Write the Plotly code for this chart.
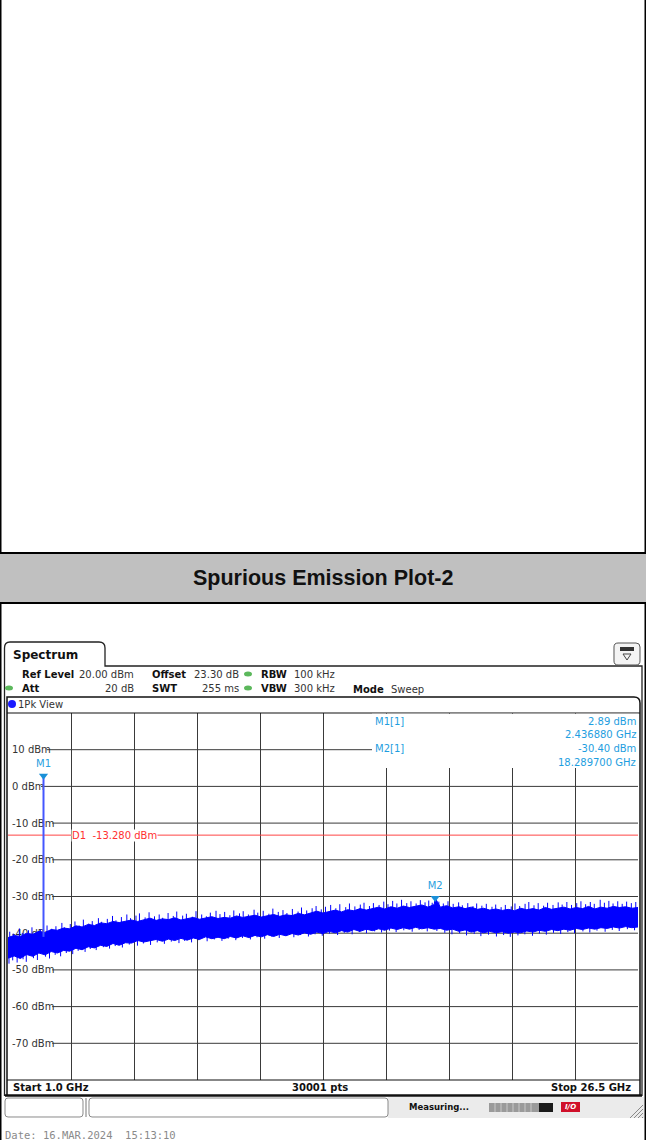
import plotly.graph_objects as go

W, H = 646, 1140

# ---------------- data ----------------
freq_ghz = [1.0, 1.25, 1.5, 1.75, 2.0, 2.25, 2.5, 2.75, 3.0, 3.25,
            3.5, 3.75, 4.0, 4.25, 4.5, 4.75, 5.0, 5.25, 5.5, 5.75,
            6.0, 6.25, 6.5, 6.75, 7.0, 7.25, 7.5, 7.75, 8.0, 8.25,
            8.5, 8.75, 9.0, 9.25, 9.5, 9.75, 10.0, 10.25, 10.5, 10.75,
            11.0, 11.25, 11.5, 11.75, 12.0, 12.25, 12.5, 12.75, 13.0, 13.25,
            13.5, 13.75, 14.0, 14.25, 14.5, 14.75, 15.0, 15.25, 15.5, 15.75,
            16.0, 16.25, 16.5, 16.75, 17.0, 17.25, 17.5, 17.75, 18.0, 18.25,
            18.5, 18.75, 19.0, 19.25, 19.5, 19.75, 20.0, 20.25, 20.5, 20.75,
            21.0, 21.25, 21.5, 21.75, 22.0, 22.25, 22.5, 22.75, 23.0, 23.25,
            23.5, 23.75, 24.0, 24.25, 24.5, 24.75, 25.0, 25.25, 25.5, 25.75,
            26.0, 26.25, 26.5]

# upper edge of the dense trace body, dBm
trace_upper = [-41.2, -40.6, -40.9, -40.0, -40.3, -39.5, -39.8, -39.0, -39.2, -38.6,
               -38.8, -38.0, -38.3, -37.6, -37.9, -37.2, -37.4, -36.8, -37.1, -36.7,
               -36.4, -36.8, -36.3, -35.9, -36.5, -36.1, -36.3, -35.8, -36.4, -36.1,
               -35.7, -36.2, -35.9, -35.5, -36.0, -35.7, -35.9, -35.3, -35.7, -35.4,
               -35.1, -35.6, -35.3, -34.9, -35.4, -35.0, -35.2, -34.6, -35.0, -34.6,
               -34.0, -34.5, -34.1, -33.7, -34.2, -33.6, -33.9, -33.3, -33.7, -33.3,
               -32.9, -33.4, -32.8, -33.2, -32.6, -33.0, -32.6, -32.3, -32.9, -32.2,
               -32.9, -32.5, -33.1, -32.8, -33.3, -32.9, -33.5, -33.2, -33.7, -33.4,
               -33.8, -33.5, -33.9, -33.2, -33.6, -33.3, -33.7, -33.0, -33.5, -33.2,
               -32.9, -33.4, -33.0, -33.3, -32.7, -33.4, -32.9, -33.2, -32.7, -33.0,
               -32.8, -33.2, -33.0]

# lower edge of the dense trace body, dBm
trace_lower = [-46.8, -46.2, -46.9, -45.8, -46.3, -45.4, -45.9, -45.0, -45.4, -44.7,
               -44.9, -44.1, -44.5, -43.7, -44.0, -43.3, -43.6, -42.8, -43.3, -42.6,
               -42.7, -42.0, -42.4, -42.0, -41.7, -42.2, -41.6, -42.0, -41.4, -41.9,
               -41.3, -41.7, -41.0, -41.5, -41.1, -41.5, -40.9, -41.3, -40.7, -41.2,
               -40.6, -41.0, -40.4, -40.9, -40.3, -40.7, -40.1, -40.5, -39.9, -40.3,
               -39.7, -40.1, -39.5, -39.9, -39.3, -39.7, -39.0, -39.5, -38.9, -39.3,
               -38.8, -39.2, -38.6, -39.0, -38.5, -38.9, -38.4, -38.8, -38.5, -38.9,
               -38.7, -39.2, -38.9, -39.5, -39.1, -39.7, -39.3, -39.9, -39.5, -39.9,
               -39.6, -40.0, -39.7, -39.9, -39.4, -39.7, -39.2, -39.5, -39.0, -39.3,
               -38.9, -39.2, -38.7, -39.0, -38.6, -38.9, -38.5, -38.7, -38.3, -38.6,
               -38.2, -38.5, -38.3]

# individual peaks sticking out above the trace body
spike_up_freq = [1.07, 1.21, 1.46, 1.58, 1.83, 1.97, 2.22, 2.31, 2.58, 2.77, 2.94, 3.18,
                 3.29, 3.52, 3.71, 3.88, 4.05, 4.27, 4.41, 4.66, 4.79, 5.02, 5.23, 5.37,
                 5.59, 5.81, 5.96, 6.18, 6.32, 6.55, 6.71, 6.93, 7.12, 7.26, 7.48, 7.69,
                 7.83, 8.07, 8.22, 8.46, 8.61, 8.84, 9.03, 9.19, 9.42, 9.58, 9.77, 9.98,
                 10.14, 10.37, 10.52, 10.73, 10.96, 11.11, 11.33, 11.56, 11.72, 11.94,
                 12.13, 12.29, 12.51, 12.74, 12.88, 13.09, 13.31, 13.47, 13.68, 13.85,
                 14.06, 14.27, 14.43, 14.67, 14.82, 15.04, 15.26, 15.41, 15.63, 15.79,
                 16.02, 16.21, 16.38, 16.57, 16.74, 16.93, 17.14, 17.31, 17.52, 17.69,
                 17.88, 18.03, 18.17, 18.44, 18.62, 18.81, 19.02, 19.24, 19.39, 19.61,
                 19.82, 19.97, 20.18, 20.36, 20.59, 20.74, 20.96, 21.13, 21.37, 21.52,
                 21.71, 21.93, 22.08, 22.29, 22.46, 22.68, 22.84, 23.06, 23.27, 23.43,
                 23.62, 23.81, 24.02, 24.19, 24.38, 24.57, 24.73, 24.97, 25.14, 25.32,
                 25.49, 25.68, 25.86, 26.04, 26.23, 26.41]
spike_up_dbm = [-39.6, -40.1, -38.7, -39.9, -39.2, -38.4, -39.5, -38.9, -37.9, -38.8, -38.1,
                -37.2, -38.4, -37.5, -36.8, -37.9, -36.3, -37.4, -36.7, -35.9, -36.9, -36.1,
                -35.3, -36.5, -35.6, -34.9, -35.9, -35.2, -34.6, -35.7, -34.3, -35.4, -34.9,
                -35.8, -34.5, -35.3, -34.1, -35.2, -34.7, -35.5, -34.0, -34.9, -35.4, -34.4,
                -33.9, -34.8, -34.2, -35.1, -33.8, -34.6, -34.0, -34.9, -33.6, -34.4, -33.9,
                -34.7, -33.3, -34.2, -33.7, -34.5, -33.4, -34.1, -33.0, -33.8, -33.2, -32.6,
                -33.5, -32.8, -32.3, -33.2, -32.1, -32.9, -31.9, -32.7, -32.2, -31.7, -32.6,
                -31.8, -32.3, -31.4, -32.1, -31.2, -31.9, -30.9, -31.8, -31.3, -31.9, -31.0,
                -31.6, -31.1, -31.7, -31.4, -31.9, -31.3, -32.0, -31.6, -32.4, -31.8, -32.6,
                -31.9, -32.5, -32.0, -32.8, -32.2, -32.9, -32.3, -32.7, -31.9, -32.6, -32.0,
                -31.5, -32.4, -31.8, -32.5, -31.7, -32.3, -31.6, -32.2, -31.5, -32.3, -31.8,
                -31.3, -32.1, -31.5, -32.0, -30.9, -31.7, -31.2, -31.9, -31.3, -32.0, -31.4,
                -31.8, -31.5]

# individual dips below the trace body
spike_down_freq = [1.04, 1.19, 1.37, 1.61, 1.74, 2.03, 2.19, 2.52, 2.68, 2.91, 3.13, 3.36,
                   3.62, 3.84, 4.12, 4.33, 4.57, 4.86, 5.11, 5.34, 5.63, 5.91, 6.24, 6.48,
                   6.77, 7.04, 7.33, 7.61, 7.92, 8.15, 8.43, 8.72, 9.06, 9.35, 9.66, 9.91,
                   10.22, 10.49, 10.81, 11.08, 11.39, 11.67, 11.98, 12.26, 12.57, 12.84,
                   13.16, 13.43, 13.72, 14.01, 14.34, 14.61, 14.93, 15.22, 15.51, 15.84,
                   16.12, 16.44, 16.71, 17.02, 17.36, 17.64, 17.97, 18.36, 18.68, 18.97,
                   19.28, 19.56, 19.87, 20.14, 20.45, 20.77, 21.06, 21.33, 21.64, 21.92,
                   22.23, 22.51, 22.79, 23.08, 23.37, 23.66, 23.93, 24.27, 24.55, 24.84,
                   25.17, 25.46, 25.74, 26.07, 26.36]
spike_down_dbm = [-48.3, -47.4, -48.0, -47.1, -47.8, -46.8, -47.3, -46.4, -46.9, -45.9,
                  -46.3, -45.4, -45.7, -44.8, -45.1, -44.3, -44.6, -43.8, -44.2, -43.5,
                  -43.9, -43.1, -43.4, -42.8, -43.2, -42.5, -42.9, -42.3, -42.7, -42.1,
                  -42.5, -41.9, -42.2, -41.7, -42.1, -41.5, -41.9, -41.3, -41.7, -41.1,
                  -41.5, -40.9, -41.3, -40.7, -41.1, -40.5, -40.9, -40.3, -40.7, -40.1,
                  -40.5, -39.9, -40.3, -39.7, -40.0, -39.5, -39.8, -39.3, -39.7, -39.2,
                  -39.6, -39.1, -39.5, -39.4, -39.9, -40.3, -40.0, -40.6, -40.2, -40.8,
                  -40.4, -40.9, -40.5, -41.0, -40.6, -40.3, -40.7, -40.1, -40.4, -39.9,
                  -40.2, -39.7, -40.0, -39.5, -39.8, -39.3, -39.6, -39.1, -39.4, -38.9,
                  -39.2]

marker_names = ["M1", "M2"]
marker_freq_ghz = [2.43688, 18.2897]
marker_level_dbm = [2.89, -30.40]
m1_base_dbm = -41.0
d1_level_dbm = -13.28

y_tick_vals = [10, 0, -10, -20, -30, -40, -50, -60, -70]
y_tick_text = ["10 dBm", "0 dBm", "-10 dBm", "-20 dBm", "-30 dBm",
               "-40 dBm", "-50 dBm", "-60 dBm", "-70 dBm"]

x_start, x_stop = 1.0, 26.5
y_ref_top, y_bottom = 20, -80

# ---------------- helpers ----------------
def px(x):
    return x / W

def py(y):
    return 1 - y / H

def P(x, y):
    return f"{px(x):.5f},{py(y):.5f}"

annotations = []
shapes = []

def txt(x, y, s, size=10, color="#333333", bold=False, anchor="left",
        family="DejaVu Sans", bg=None):
    a = dict(x=px(x), y=py(y), xref="paper", yref="paper",
             text=f"<b>{s}</b>" if bold else s, showarrow=False,
             xanchor=anchor, yanchor="middle", borderpad=0,
             font=dict(size=size, color=color, family=family))
    if bg:
        a["bgcolor"] = bg
    annotations.append(a)

def rect(x0, y0, x1, y1, fill=None, line=None, lw=1, layer="above"):
    shapes.append(dict(type="rect", xref="paper", yref="paper",
                       x0=px(x0), x1=px(x1), y0=py(y0), y1=py(y1),
                       fillcolor=fill if fill else "rgba(0,0,0,0)",
                       line=dict(color=line if line else "rgba(0,0,0,0)", width=lw if line else 0),
                       layer=layer))

def hline(x0, x1, y, color="black", lw=1, layer="above"):
    shapes.append(dict(type="line", xref="paper", yref="paper",
                       x0=px(x0), x1=px(x1), y0=py(y), y1=py(y),
                       line=dict(color=color, width=lw), layer=layer))

def vline(x, y0, y1, color="black", lw=1, layer="above"):
    shapes.append(dict(type="line", xref="paper", yref="paper",
                       x0=px(x), x1=px(x), y0=py(y0), y1=py(y1),
                       line=dict(color=color, width=lw), layer=layer))

def path(d, color="black", lw=1, fill=None, layer="above"):
    shapes.append(dict(type="path", xref="paper", yref="paper", path=d,
                       line=dict(color=color, width=lw),
                       fillcolor=fill if fill else "rgba(0,0,0,0)", layer=layer))

# ---------------- page / table chrome ----------------
rect(0, 0, 1.5, H, fill="black")
rect(644.5, 0, W, H, fill="black")
rect(0, 553, W, 603, fill="#c0c0c0")
hline(0, W, 553, lw=2)
hline(0, W, 603, lw=2)
txt(323, 578, "Spurious Emission Plot-2", size=21.5, color="#111111", bold=True,
    anchor="center", family="Liberation Sans, Arial")

# ---------------- instrument window ----------------
path("M " + P(4.5, 1096) + " L " + P(4.5, 648) + " Q " + P(4.5, 642) + " " + P(10, 642)
     + " L " + P(99, 642) + " Q " + P(105, 642) + " " + P(105, 648)
     + " L " + P(105, 666) + " L " + P(642, 666) + " L " + P(642, 1096),
     color="#222222", lw=1.3)
txt(12, 655, "Spectrum", size=12, color="#111111", bold=True)
path("M " + P(614, 647) + " Q " + P(614, 643) + " " + P(618, 643) + " L " + P(636, 643)
     + " Q " + P(640, 643) + " " + P(640, 647) + " L " + P(640, 661) + " Q " + P(640, 665)
     + " " + P(636, 665) + " L " + P(618, 665) + " Q " + P(614, 665) + " " + P(614, 661) + " Z",
     color="#555555", lw=1, fill="#f4f4f4")
rect(620, 647, 634, 651, fill="#333333")
path("M " + P(623, 654) + " L " + P(631, 654) + " L " + P(627, 660) + " Z", color="#444444", lw=1)

grn = "#5cb85c"
for (cx, cy) in [(248, 674), (9, 688), (248, 688)]:
    shapes.append(dict(type="circle", xref="paper", yref="paper",
                       x0=px(cx - 4), x1=px(cx + 4), y0=py(cy - 2.5), y1=py(cy + 2.5),
                       fillcolor=grn, line=dict(width=0), layer="above"))
txt(21, 674, "Ref Level", bold=True, color="#111111")
txt(135, 674, "20.00 dBm", anchor="right")
txt(151, 674, "Offset", bold=True, color="#111111")
txt(240, 674, "23.30 dB", anchor="right")
txt(260, 674, "RBW", bold=True, color="#111111")
txt(293, 674, "100 kHz")
txt(21, 688, "Att", bold=True, color="#111111")
txt(135, 688, "20 dB", anchor="right")
txt(151, 688, "SWT", bold=True, color="#111111")
txt(240, 688, "255 ms", anchor="right")
txt(260, 688, "VBW", bold=True, color="#111111")
txt(293, 688, "300 kHz")
txt(352, 689, "Mode", bold=True, color="#111111")
txt(390, 689, "Sweep")

path("M " + P(7, 1096) + " L " + P(7, 697) + " L " + P(634, 697) + " Q " + P(640, 697) + " "
     + P(640, 703) + " L " + P(640, 1096), color="#111111", lw=1.5)
hline(7, 640, 713, color="#111111", lw=1.2)
shapes.append(dict(type="circle", xref="paper", yref="paper",
                   x0=px(8), x1=px(16), y0=py(708), y1=py(700),
                   fillcolor="#1a1aff", line=dict(width=0), layer="above"))
txt(17, 704, "1Pk View", size=10)

hline(7, 640, 1080, color="#111111", lw=1.2)
hline(5, 642, 1095.5, color="#111111", lw=2.5)
txt(12, 1087, "Start 1.0 GHz", bold=True, color="#111111")
txt(320, 1087, "30001 pts", bold=True, color="#111111", anchor="center")
txt(632, 1087, "Stop 26.5 GHz", bold=True, color="#111111", anchor="right")

rect(388, 1097, 644, 1118, fill="#ebebeb")
path("M " + P(5, 1101) + " Q " + P(5, 1098) + " " + P(8, 1098) + " L " + P(80, 1098) + " Q "
     + P(83, 1098) + " " + P(83, 1101) + " L " + P(83, 1114) + " Q " + P(83, 1117) + " "
     + P(80, 1117) + " L " + P(8, 1117) + " Q " + P(5, 1117) + " " + P(5, 1114) + " Z",
     color="#8a8a8a", lw=1, fill="white")
path("M " + P(89, 1101) + " Q " + P(89, 1098) + " " + P(92, 1098) + " L " + P(385, 1098) + " Q "
     + P(388, 1098) + " " + P(388, 1101) + " L " + P(388, 1114) + " Q " + P(388, 1117) + " "
     + P(385, 1117) + " L " + P(92, 1117) + " Q " + P(89, 1117) + " " + P(89, 1114) + " Z",
     color="#8a8a8a", lw=1, fill="white")
vline(86, 1098, 1117, color="#bbbbbb", lw=2)
txt(408, 1107, "Measuring...", size=8.5, bold=True, color="#111111")
rect(489, 1103, 539, 1112, fill="#9a9a9a")
for sx in [495, 501, 507, 513, 519, 525, 531]:
    vline(sx, 1103, 1112, color="#c8c8c8", lw=1)
rect(539, 1103, 553, 1112, fill="#1a1a1a")
rect(561, 1102, 580, 1112, fill="#d0102a")
txt(570.5, 1107, "<i>I/O</i>", size=7, color="#ffffff", bold=True, anchor="center")
for k in range(4):
    path("M " + P(630 + 4 * k, 1118) + " L " + P(643, 1105 + 4 * k), color="#888888", lw=1)

txt(4, 1135, "Date: 16.MAR.2024  15:13:10", size=10.5, color="#8a8a8a",
    family="DejaVu Sans Mono")

# ---------------- plot-area decorations ----------------
for v, t in zip(y_tick_vals, y_tick_text):
    x_start_px = 12 + len(t) * 5.6 + 1
    shapes.append(dict(type="line", xref="paper", yref="y",
                       x0=px(x_start_px), x1=px(638), y0=v, y1=v,
                       line=dict(color="#3a3a3a", width=1), layer="below"))
shapes.append(dict(type="line", xref="x", yref="y", x0=x_start, x1=x_stop,
                   y0=d1_level_dbm, y1=d1_level_dbm,
                   line=dict(color="#ff4545", width=1), layer="between"))
annotations.append(dict(x=px(71), y=d1_level_dbm, xref="paper", yref="y",
                        text="D1  -13.280 dBm", showarrow=False, xanchor="left",
                        yanchor="middle", bgcolor="white", borderpad=0,
                        font=dict(size=10, color="#ff3030", family="DejaVu Sans")))
# white readout panel hiding the grid behind the marker table
rect(372, 713.8, 638.5, 768, fill="white", layer="above")
mk = "#1e9ee0"
txt(374, 721, "M1[1]", color=mk)
txt(637, 721, "2.89 dBm", color=mk, anchor="right")
txt(637, 734, "2.436880 GHz", color=mk, anchor="right")
txt(374, 748, "M2[1]", color=mk)
txt(637, 748, "-30.40 dBm", color=mk, anchor="right")
txt(637, 762, "18.289700 GHz", color=mk, anchor="right")

# ---------------- traces ----------------
pairs = sorted(zip(freq_ghz + [marker_freq_ghz[1]], trace_upper + [marker_level_dbm[1]]))
up_x = [p[0] for p in pairs]
up_y = [p[1] for p in pairs]

spk_x, spk_y = [], []
for f, v in zip(spike_up_freq, spike_up_dbm):
    spk_x += [f, f, None]
    spk_y += [v, v - 4, None]
for f, v in zip(spike_down_freq, spike_down_dbm):
    spk_x += [f, f, None]
    spk_y += [v, v + 4, None]

fig = go.Figure()
fig.add_trace(go.Scatter(
    x=up_x + freq_ghz[::-1], y=up_y + trace_lower[::-1],
    fill="toself", fillcolor="#0000ff", mode="lines",
    line=dict(color="#0000ff", width=1), hoverinfo="skip", showlegend=False))
fig.add_trace(go.Scatter(
    x=spk_x, y=spk_y, mode="lines", line=dict(color="#0000ff", width=1),
    hoverinfo="skip", showlegend=False))
fig.add_trace(go.Scatter(
    x=[marker_freq_ghz[0], marker_freq_ghz[0]], y=[m1_base_dbm, marker_level_dbm[0]],
    mode="lines", line=dict(color="#4456ff", width=2), showlegend=False))
fig.add_trace(go.Scatter(
    x=marker_freq_ghz, y=marker_level_dbm, mode="markers+text",
    text=marker_names, textposition="top center",
    textfont=dict(size=10, color="#2aa0e0", family="DejaVu Sans"),
    marker=dict(symbol="triangle-down", size=8, color="#1a90d8"),
    showlegend=False))

fig.update_layout(
    width=W, height=H, margin=dict(l=0, r=0, t=0, b=0),
    paper_bgcolor="white", plot_bgcolor="white",
    shapes=shapes, annotations=annotations, showlegend=False,
    xaxis=dict(domain=[px(8), px(638)], range=[x_start, x_stop],
               tick0=x_start, dtick=(x_stop - x_start) / 10,
               showgrid=True, gridcolor="#3a3a3a", gridwidth=1,
               showticklabels=False, ticks="", zeroline=False, showline=False,
               layer="below traces", fixedrange=True),
    yaxis=dict(domain=[py(1080), py(713)], range=[y_bottom, y_ref_top],
               tickvals=y_tick_vals, ticktext=y_tick_text,
               ticklabelposition="inside", ticks="", ticklabelstandoff=1,
               tickfont=dict(size=10, color="#333333", family="DejaVu Sans"),
               showgrid=False, zeroline=False, showline=False,
               layer="below traces", fixedrange=True),
)

fig.write_html("out.html", config={"displayModeBar": False},
               post_script="document.body.style.margin='0';document.body.style.padding='0';")
